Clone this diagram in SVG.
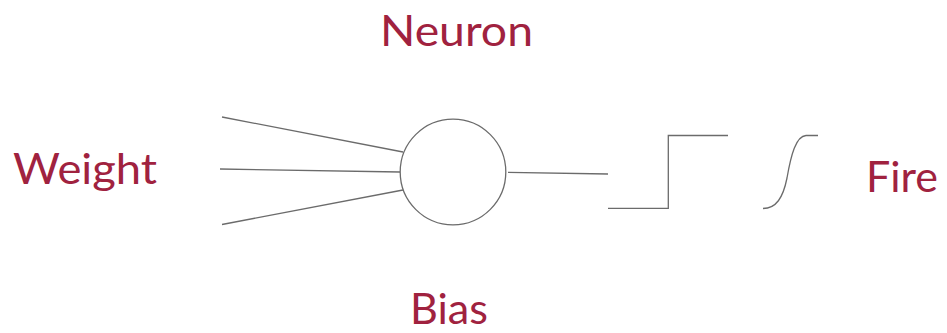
<svg xmlns="http://www.w3.org/2000/svg" width="947" height="333" viewBox="0 0 947 333">
<style>
.lbl{font-family:Lato,"Open Sans",sans-serif;font-size:43px;fill:#A0223F}
.ln{stroke:#6b6b6b;stroke-width:1.3;fill:none}
</style>
<rect width="947" height="333" fill="#fff"/>
<g id="connectors">
<line class="ln" x1="222" y1="117" x2="403" y2="152"/>
<line class="ln" x1="220" y1="169" x2="400" y2="172"/>
<line class="ln" x1="222" y1="224.5" x2="403" y2="190"/>
<line class="ln" x1="508" y1="172.3" x2="608" y2="174"/>
</g>
<g id="neuron">
<circle class="ln" cx="453" cy="172" r="52.8"/>
</g>
<g id="step">
<polyline class="ln" points="608,208.3 668.3,208.3 668.3,135.5 728,135.5"/>
</g>
<g id="sigmoid">
<path class="ln" d="M763,208.5 C776,208.5 783,198 787,178 C791,155 796,136 806,135.5 L818,135.5"/>
</g>
<g id="label-neuron"><text class="lbl" x="380" y="46" textLength="153" lengthAdjust="spacingAndGlyphs">Neuron</text></g>
<g id="label-weight"><text class="lbl" x="13" y="183.5" textLength="144" lengthAdjust="spacingAndGlyphs">Weight</text></g>
<g id="label-bias"><text class="lbl" x="410" y="323.5" textLength="78" lengthAdjust="spacingAndGlyphs">Bias</text></g>
<g id="label-fire"><text class="lbl" x="866" y="191.5" textLength="72" lengthAdjust="spacingAndGlyphs">Fire</text></g>
</svg>
